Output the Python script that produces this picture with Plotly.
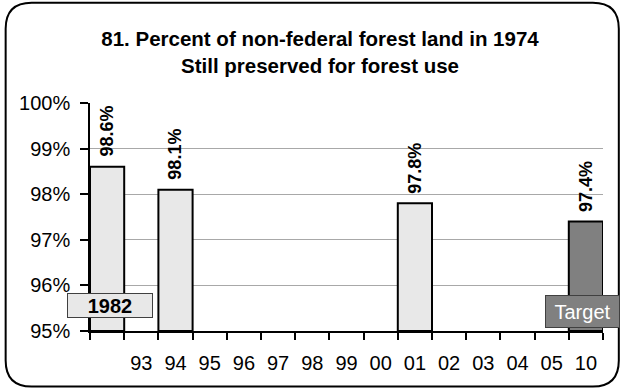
import plotly.graph_objects as go

# ---- data ----
categories = ["1982", "93", "94", "95", "96", "97", "98", "99", "00", "01", "02", "03", "04", "05", "10"]
tick_labels = ["", "93", "94", "95", "96", "97", "98", "99", "00", "01", "02", "03", "04", "05", "10"]
bar_years = ["1982", "94", "01", "10"]
bar_values = [98.6, 98.1, 97.8, 97.4]
bar_is_target = [False, False, False, True]
y_ticks = [95, 96, 97, 98, 99, 100]
y_tick_labels = ["95%", "96%", "97%", "98%", "99%", "100%"]

W, H = 623, 389
ML, MR, MT, MB = 90, 20.3, 103.3, 58.3
PW, PH = W - ML - MR, H - MT - MB


def px(x):
    return (x - ML) / PW


def py(y):
    return (H - MB - y) / PH


xs = [categories.index(c) for c in bar_years]
fills = ["#808080" if t else "#e8e8e8" for t in bar_is_target]

fig = go.Figure()
fig.add_trace(go.Bar(
    x=xs, y=[v - 95 for v in bar_values], base=95,
    width=1.0,
    marker=dict(color=fills, line=dict(color="black", width=2)),
    hoverinfo="skip",
))

for x, v in zip(xs, bar_values):
    fig.add_annotation(x=x, y=v, text=f"<b>{v:.1f}%</b>", textangle=-90,
                       showarrow=False, yanchor="bottom", xanchor="center",
                       yshift=8, font=dict(size=18, color="black"))

fig.add_annotation(x=0.085, y=95.55, text="<b>1982</b>", showarrow=False,
                   bgcolor="#e8e8e8", bordercolor="#404040", borderwidth=1,
                   width=82, height=21, font=dict(size=20, color="black"))
fig.add_annotation(x=13.91, y=95.43, text="Target", showarrow=False,
                   bgcolor="#808080", bordercolor="#404040", borderwidth=1,
                   width=71, height=29, font=dict(size=20, color="white"))

# rounded border
l, r, t, b = px(5.7), px(618.5), py(3.3), py(386)
rx, ry = 26 / PW, 26 / PH
path = (f"M {l+rx},{t} L {r-rx},{t} Q {r},{t} {r},{t-ry} L {r},{b+ry} "
        f"Q {r},{b} {r-rx},{b} L {l+rx},{b} Q {l},{b} {l},{b+ry} "
        f"L {l},{t-ry} Q {l},{t} {l+rx},{t} Z")
fig.add_shape(type="path", path=path, xref="paper", yref="paper",
              line=dict(color="black", width=2), layer="below")

fig.update_layout(
    width=W, height=H,
    margin=dict(l=ML, r=MR, t=MT, b=MB, autoexpand=False),
    paper_bgcolor="white", plot_bgcolor="white",
    showlegend=False,
    font=dict(family="Liberation Sans, Arial, sans-serif", color="black"),
    title=dict(text="<b>81. Percent of non-federal forest land in 1974<br>Still preserved for forest use</b>",
               x=320 / W, xref="container", xanchor="center", y=1 - 46 / H, yanchor="middle",
               font=dict(size=20.5, color="black")),
    xaxis=dict(range=[-0.5, 14.5], tickmode="array", tickvals=list(range(len(categories))),
               ticktext=tick_labels, ticks="outside", ticklen=13, tickcolor="rgba(0,0,0,0)",
               showgrid=False, zeroline=False, showline=True, linecolor="black", linewidth=1.5,
               tickfont=dict(size=20, color="black"),
               minor=dict(tickmode="linear", tick0=-0.5, dtick=1, ticks="outside",
                          ticklen=7, tickcolor="black", tickwidth=1.5, showgrid=False)),
    yaxis=dict(range=[95, 100], tickmode="array", tickvals=y_ticks, ticktext=y_tick_labels,
               ticks="outside", ticklen=8, tickcolor="black", tickwidth=1.5, showline=True,
               linecolor="black", ticklabelstandoff=6,
               linewidth=1.5, showgrid=True, gridcolor="#a8a8a8", gridwidth=1, zeroline=False,
               tickfont=dict(size=20, color="black")),
)

fig.write_html("out.html", config={"displayModeBar": False},
               post_script="document.body.style.margin='0';document.body.style.padding='0';")
